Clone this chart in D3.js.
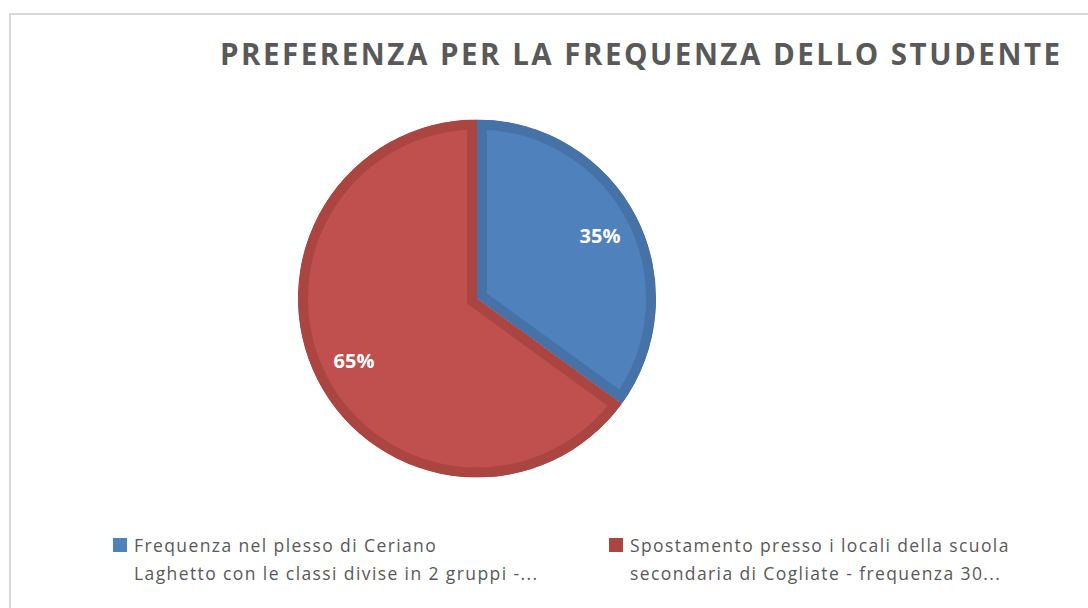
<!DOCTYPE html>
<html>
<head>
<meta charset="utf-8">
<script src="https://cdn.jsdelivr.net/npm/d3@7"></script>
<style>
  html, body { margin: 0; padding: 0; background: #fff; }
  svg { display: block; }
</style>
</head>
<body>
<svg id="chart" width="1088" height="608"></svg>
<script>
// chart data
const titleText = "PREFERENZA PER LA FREQUENZA DELLO STUDENTE";
const categories = [
  ["Frequenza nel plesso di Ceriano", "Laghetto con le classi divise in 2 gruppi -..."],
  ["Spostamento presso i locali della scuola", "secondaria di Cogliate - frequenza 30..."]
];
const values = [35, 65];
const fillColors = ["#4f81bd", "#c0504d"];
const edgeColors = ["#4672a8", "#aa4542"];

const svg = d3.select("#chart");
const W = 1088, H = 608;

// chart area border
svg.append("rect")
  .attr("x", 10).attr("y", 14)
  .attr("width", W + 20).attr("height", H + 20)
  .attr("fill", "#fff")
  .attr("stroke", "#d9d9d9")
  .attr("stroke-width", 2);

// title
svg.append("text")
  .attr("x", 220).attr("y", 65)
  .attr("font-family", "'Open Sans', sans-serif")
  .attr("font-weight", "bold")
  .attr("font-size", 29.5)
  .attr("fill", "#595959")
  .attr("textLength", 840)
  .attr("lengthAdjust", "spacing")
  .text(titleText);

// pie
const cx = 477, cy = 298.5, radius = 179;
const total = d3.sum(values);
const pie = d3.pie().sort(null).value(d => d)(values);
const arc = d3.arc().innerRadius(0).outerRadius(radius);
const labelArc = d3.arc().innerRadius(138).outerRadius(138);

const g = svg.append("g").attr("transform", `translate(${cx},${cy})`);
const defs = svg.append("defs");

// clip each slice so its darker edge is drawn only on the inside
pie.forEach((p, i) => {
  defs.append("clipPath").attr("id", "clip" + i)
    .append("path").attr("d", arc(p));
});

g.selectAll("path.slice")
  .data(pie)
  .join("path")
  .attr("class", "slice")
  .attr("d", arc)
  .attr("fill", (d, i) => fillColors[i])
  .attr("stroke", (d, i) => edgeColors[i])
  .attr("stroke-width", 20)
  .attr("stroke-linejoin", "miter")
  .attr("clip-path", (d, i) => `url(#clip${i})`);

g.selectAll("text.lbl")
  .data(pie)
  .join("text")
  .attr("class", "lbl")
  .attr("transform", d => `translate(${labelArc.centroid(d)})`)
  .attr("text-anchor", "middle")
  .attr("dy", "0.36em")
  .attr("font-family", "'Open Sans', sans-serif")
  .attr("font-weight", "bold")
  .attr("font-size", 20)
  .attr("fill", "#fff")
  .text(d => Math.round(d.value / total * 100) + "%");

// legend
const legendX = [113, 609];
const legend = svg.append("g");
categories.forEach((lines, i) => {
  legend.append("rect")
    .attr("x", legendX[i]).attr("y", 538)
    .attr("width", 14).attr("height", 14)
    .attr("fill", i === 0 ? fillColors[i] : edgeColors[i]);
  lines.forEach((ln, j) => {
    legend.append("text")
      .attr("x", legendX[i] + 21)
      .attr("y", 552 + j * 28)
      .attr("font-family", "'Open Sans', sans-serif")
      .attr("font-size", 17.5)
      .attr("letter-spacing", 1.4)
      .attr("fill", "#595959")
      .text(ln);
  });
});
</script>
</body>
</html>
